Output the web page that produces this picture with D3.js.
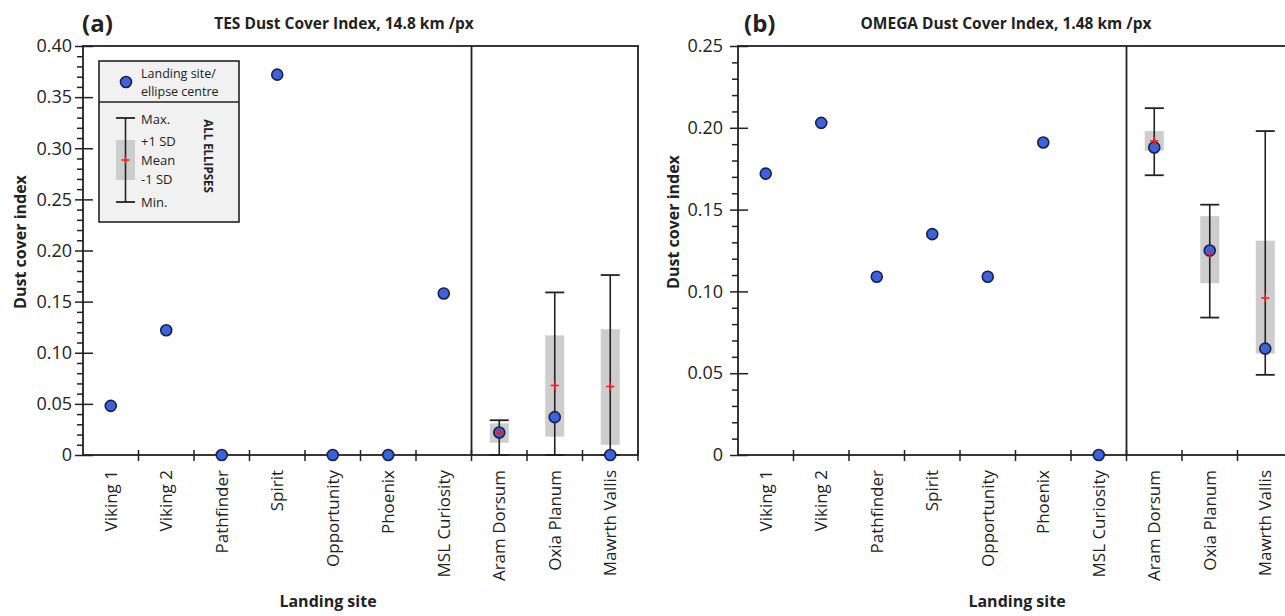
<!DOCTYPE html>
<html>
<head>
<meta charset="utf-8">
<script src="https://cdn.jsdelivr.net/npm/d3@7"></script>
<style>
  body { margin: 0; background: #fff; }
  text { font-family: "Open Sans", sans-serif; fill: #222; }
</style>
</head>
<body>
<svg id="chart" width="1285" height="616"></svg>
<script>
var sites = ["Viking 1", "Viking 2", "Pathfinder", "Spirit", "Opportunity", "Phoenix",
             "MSL Curiosity", "Aram Dorsum", "Oxia Planum", "Mawrth Vallis"];
var ellipseSites = ["Aram Dorsum", "Oxia Planum", "Mawrth Vallis"];

// (a) TES dust cover index
var tesValues = [0.048, 0.122, 0, 0.372, 0, 0, 0.158, 0.022, 0.037, 0];
var tesMin    = [0, 0, 0];
var tesSdLow  = [0.012, 0.018, 0.010];
var tesMean   = [0.022, 0.068, 0.067];
var tesSdHigh = [0.031, 0.117, 0.123];
var tesMax    = [0.034, 0.159, 0.176];
var tesTicks  = [0, 0.05, 0.10, 0.15, 0.20, 0.25, 0.30, 0.35, 0.40];

// (b) OMEGA dust cover index
var omegaValues = [0.172, 0.203, 0.109, 0.135, 0.109, 0.191, 0, 0.188, 0.125, 0.065];
var omegaMin    = [0.171, 0.084, 0.049];
var omegaSdLow  = [0.186, 0.105, 0.062];
var omegaMean   = [0.192, 0.123, 0.096];
var omegaSdHigh = [0.198, 0.146, 0.131];
var omegaMax    = [0.212, 0.153, 0.198];
var omegaTicks  = [0, 0.05, 0.10, 0.15, 0.20, 0.25];

var svg = d3.select("#chart");
svg.append("rect").attr("width", 1285).attr("height", 616).attr("fill", "#fff");

var ink = "#222",
    dotFill = "#3b63dc",
    dotStroke = "#1c1f4a",
    meanColor = "#ff1a1a",
    sdColor = "#cdcdcd";

function fmt(d) { return d === 0 ? "0" : d.toFixed(2); }

function panel(opt) {
  var left = opt.left, top = 46, bottom = 455, w = 555;
  var x = d3.scaleBand().domain(sites).range([left, left + w]).padding(0);
  var y = d3.scaleLinear().domain([0, d3.max(opt.ticks)]).range([bottom, top]);
  var bw = x.bandwidth();
  var g = svg.append("g");

  // minor ticks every 0.01
  var minor = d3.range(0, d3.max(opt.ticks) + 1e-9, 0.01)
    .filter(function(v) { return Math.round(v * 100) % 5 !== 0; });
  g.append("g")
      .attr("transform", "translate(" + left + ",0)")
      .call(d3.axisLeft(y).tickValues(minor).tickSize(6).tickFormat(""))
      .call(function(a) { a.select(".domain").remove(); });

  g.append("g")
      .attr("transform", "translate(" + left + ",0)")
      .call(d3.axisRight(y).tickValues(opt.ticks).tickSize(10).tickFormat(""))
      .call(function(a) { a.select(".domain").remove(); });

  var yAxis = g.append("g")
      .attr("transform", "translate(" + left + ",0)")
      .call(d3.axisLeft(y).tickValues(opt.ticks).tickSize(8).tickPadding(opt.pad).tickFormat(fmt));
  yAxis.select(".domain").remove();
  yAxis.selectAll("text").style("font-size", "18px").attr("fill", ink);
  g.selectAll(".tick line").attr("stroke", ink).attr("stroke-width", 1.5);

  // frame and divider
  g.append("rect")
      .attr("x", left).attr("y", top)
      .attr("width", w).attr("height", bottom - top)
      .attr("fill", "none").attr("stroke", ink).attr("stroke-width", 1.8);
  g.append("line")
      .attr("x1", x(ellipseSites[0])).attr("x2", x(ellipseSites[0]))
      .attr("y1", top).attr("y2", bottom)
      .attr("stroke", ink).attr("stroke-width", 1.8);

  // x ticks at band edges
  var edges = sites.map(function(s) { return x(s); }).concat([left + w]);
  g.selectAll(".xtick").data(edges.slice(1)).enter().append("line")
      .attr("x1", function(d) { return d; }).attr("x2", function(d) { return d; })
      .attr("y1", bottom - 5).attr("y2", bottom + 6)
      .attr("stroke", ink).attr("stroke-width", 1.5);

  g.selectAll(".xlab").data(sites).enter().append("text")
      .attr("transform", function(d) {
        return "translate(" + (x(d) + bw / 2) + "," + (bottom + 15) + ") rotate(-90)";
      })
      .attr("text-anchor", "end")
      .attr("dy", "0.35em")
      .style("font-size", "17px")
      .text(function(d) { return d; });

  // ellipse statistics
  var stats = ellipseSites.map(function(s, i) {
    return { site: s, min: opt.min[i], lo: opt.lo[i], mean: opt.mean[i], hi: opt.hi[i], max: opt.max[i] };
  });
  var cx = function(d) { return x(d.site) + bw / 2; };
  var half = 9.5;

  g.selectAll(".sd").data(stats).enter().append("rect")
      .attr("x", function(d) { return cx(d) - half; })
      .attr("y", function(d) { return y(d.hi); })
      .attr("width", half * 2)
      .attr("height", function(d) { return y(d.lo) - y(d.hi); })
      .attr("fill", sdColor);
  g.selectAll(".whisk").data(stats).enter().append("line")
      .attr("x1", cx).attr("x2", cx)
      .attr("y1", function(d) { return y(d.min); })
      .attr("y2", function(d) { return y(d.max); })
      .attr("stroke", ink).attr("stroke-width", 1.6);
  ["min", "max"].forEach(function(k) {
    g.selectAll(".cap-" + k).data(stats).enter().append("line")
        .attr("x1", function(d) { return cx(d) - half; })
        .attr("x2", function(d) { return cx(d) + half; })
        .attr("y1", function(d) { return y(d[k]); })
        .attr("y2", function(d) { return y(d[k]); })
        .attr("stroke", ink).attr("stroke-width", 1.8);
  });

  // landing sites / ellipse centres
  g.selectAll(".dot").data(opt.values).enter().append("circle")
      .attr("cx", function(d, i) { return x(sites[i]) + bw / 2; })
      .attr("cy", function(d) { return y(d); })
      .attr("r", 5.5)
      .attr("fill", dotFill)
      .attr("stroke", dotStroke)
      .attr("stroke-width", 1.6);

  // mean markers
  var plus = g.selectAll(".mean").data(stats).enter().append("g")
      .attr("transform", function(d) { return "translate(" + cx(d) + "," + y(d.mean) + ")"; });
  plus.append("line").attr("x1", -4).attr("x2", 4).attr("stroke", meanColor).attr("stroke-width", 1.6);
  plus.append("line").attr("y1", -4).attr("y2", 4).attr("stroke", meanColor).attr("stroke-width", 1.6);

  // titles
  svg.append("text")
      .attr("x", opt.tagX).attr("y", 32)
      .style("font-size", "24px").style("font-weight", "bold")
      .text(opt.tag);
  svg.append("text")
      .attr("x", opt.titleX).attr("y", 29)
      .attr("text-anchor", "middle")
      .style("font-size", "15.5px").style("font-weight", "bold")
      .text(opt.title);
  svg.append("text")
      .attr("transform", "translate(" + opt.yTitleX + "," + opt.yTitleY + ") rotate(-90)")
      .attr("text-anchor", "middle")
      .style("font-size", "16px").style("font-weight", "bold")
      .text("Dust cover index");
  svg.append("text")
      .attr("x", opt.xTitleX).attr("y", 607)
      .attr("text-anchor", "middle")
      .style("font-size", "16px").style("font-weight", "bold")
      .text("Landing site");
}

panel({
  left: 83, pad: 3, ticks: tesTicks, values: tesValues,
  min: tesMin, lo: tesSdLow, mean: tesMean, hi: tesSdHigh, max: tesMax,
  tag: "(a)", tagX: 82, title: "TES Dust Cover Index, 14.8 km /px", titleX: 344,
  yTitleX: 26, yTitleY: 242, xTitleX: 328
});
panel({
  left: 738, pad: 7, ticks: omegaTicks, values: omegaValues,
  min: omegaMin, lo: omegaSdLow, mean: omegaMean, hi: omegaSdHigh, max: omegaMax,
  tag: "(b)", tagX: 744, title: "OMEGA Dust Cover Index, 1.48 km /px", titleX: 1006,
  yTitleX: 679, yTitleY: 222, xTitleX: 1017
});

// legend (panel a)
var lg = svg.append("g").attr("transform", "translate(99,61)");
lg.append("rect").attr("width", 140).attr("height", 161)
    .attr("fill", "#f1f1f1").attr("stroke", ink).attr("stroke-width", 1.6);
lg.append("line").attr("x1", 0).attr("x2", 140).attr("y1", 41).attr("y2", 41)
    .attr("stroke", ink).attr("stroke-width", 1.6);
lg.append("circle").attr("cx", 27).attr("cy", 21).attr("r", 5.5)
    .attr("fill", dotFill).attr("stroke", dotStroke).attr("stroke-width", 1.6);
lg.append("text").attr("x", 42).attr("y", 17).style("font-size", "12.5px").text("Landing site/");
lg.append("text").attr("x", 42).attr("y", 34.5).style("font-size", "12.5px").text("ellipse centre");

lg.append("rect").attr("x", 17).attr("y", 79).attr("width", 19).attr("height", 40).attr("fill", sdColor);
lg.append("line").attr("x1", 26.5).attr("x2", 26.5).attr("y1", 57).attr("y2", 141)
    .attr("stroke", ink).attr("stroke-width", 1.6);
[57, 141].forEach(function(yy) {
  lg.append("line").attr("x1", 17).attr("x2", 36).attr("y1", yy).attr("y2", yy)
      .attr("stroke", ink).attr("stroke-width", 1.8);
});
lg.append("line").attr("x1", 22.5).attr("x2", 30.5).attr("y1", 99).attr("y2", 99)
    .attr("stroke", meanColor).attr("stroke-width", 1.6);
lg.append("line").attr("x1", 26.5).attr("x2", 26.5).attr("y1", 95).attr("y2", 103)
    .attr("stroke", meanColor).attr("stroke-width", 1.6);

var legendLabels = ["Max.", "+1 SD", "Mean", "-1 SD", "Min."];
var legendRows = [58, 80, 99, 118, 141];
lg.selectAll(".ll").data(legendLabels).enter().append("text")
    .attr("x", 42).attr("y", function(d, i) { return legendRows[i]; })
    .attr("dy", "0.35em")
    .style("font-size", "13px")
    .text(function(d) { return d; });
lg.append("text")
    .attr("transform", "translate(109,95) rotate(90)")
    .attr("text-anchor", "middle").attr("dy", "0.35em")
    .style("font-size", "11.5px").style("font-weight", "bold")
    .text("ALL ELLIPSES");
</script>
</body>
</html>
